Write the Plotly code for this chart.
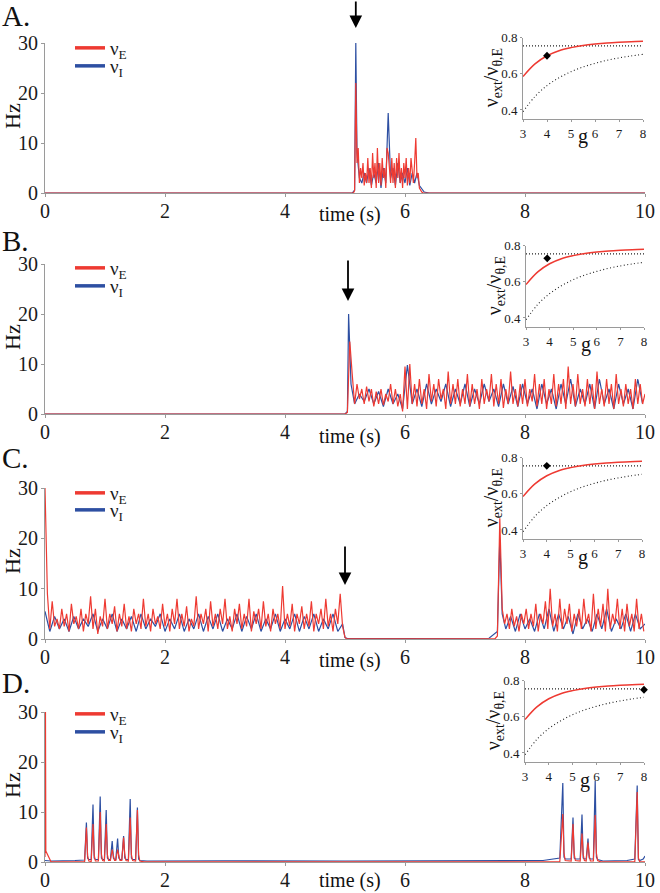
import numpy as np
import plotly.graph_objects as go

W, H = 660, 893
RED = "#ee3a32"
BLUE = "#2d4fa2"
GREY = "#9a9a9a"
FONT = "Liberation Serif, DejaVu Serif, Times New Roman, serif"

# ---------------- data ----------------
# Panel A : burst after the stimulus
A_red_t0, A_red_dt = 5.14, 0.02
A_red = [0, 0.5, 22, 6, 9, 2, 5, 3, 6, 1.5, 4, 2, 7, 2, 5, 1, 8, 3, 6, 1, 9, 2, 6, 1.5,
         7, 3, 5, 1, 9, 8, 4, 2, 7, 2, 6, 1, 7, 3, 8, 2, 5, 1, 6, 3, 7, 1.5, 5, 2, 7, 4,
         2, 6, 11, 3, 4, 1, 0.5, 0.2, 0]
A_blue_pre_t = [0, 5.12, 5.16, 5.18]
A_blue_pre = [0, 0, 0.6, 30]
A_blue_t0, A_blue_dt = 5.20, 0.04
A_blue = [8, 3, 2, 4, 2, 5, 1.5, 4, 2, 6, 1, 5, 2, 16, 3, 5, 1.5, 6, 2, 4, 2, 5, 1.5, 4,
          2, 4, 1.5, 0.8]
A_blue_post_t = [6.32, 6.40, 10]
A_blue_post = [0.2, 0, 0]

# Panel B : silent, then sustained activity
B_red_pre_t = [0, 5.0, 5.04]
B_red_pre = [0, 0, 0.3]
B_red_t0, B_red_dt = 5.08, 0.04
B_red = [14.5, 8, 2, 6, 3, 5, 2, 5.5, 2.5, 5, 1.5, 4.5, 2, 5, 1.8, 4, 2.5, 6, 2, 5, 1.5, 4,
         0.5, 9.5, 1, 10, 2, 6, 1.5, 7, 2, 5, 1, 8, 2.5, 6, 1.5, 7, 3, 5, 1, 8.5, 2, 6, 2,
         7, 1.5, 5, 2, 8, 1.5, 6, 2, 5, 1, 7, 2, 5, 2.5, 8, 1.5, 6, 2, 7, 1.2, 5, 2, 8.5, 2,
         5, 1.5, 6, 2, 7, 1.5, 5, 2.5, 8, 1.5, 6, 2, 7, 1, 5, 2, 8, 1.5, 6, 2, 7, 1, 9.5, 2,
         6, 1.5, 8, 2, 5, 1.5, 7, 2, 6, 1, 8.5, 2, 5, 1.5, 7, 2, 6, 1, 8, 2, 5, 1.5, 6, 2, 5,
         1, 7, 2, 6, 2, 4]
B_blue_pre_t = [0, 5.0, 5.04, 5.06, 5.10]
B_blue_pre = [0, 0, 0.5, 20, 6]
B_blue_t0, B_blue_dt = 5.16, 0.08
B_blue = [2, 4, 2.5, 5, 2, 4.5, 1.5, 5, 2, 4, 1, 9.8, 2, 5, 1.5, 6, 2, 5, 2.5, 6, 1.5, 5,
          2, 6, 1.5, 5, 2, 6, 2.5, 5, 1.5, 6, 2, 5.5, 1.5, 6, 2, 5, 1, 6, 2, 5, 1, 6, 2, 7,
          1.5, 5, 2, 6, 1, 7, 2, 5, 1, 6, 2, 5, 1, 7, 2]

# Panel C : activity, stopped by the stimulus, restarts at ~7.6 s
C_red1_t0, C_red1_dt = 0.0, 0.04
C_red1 = [30, 9, 2, 7.5, 2.5, 4, 2, 6, 2.5, 5, 1.5, 7, 3, 4.5, 2, 6, 1.5, 5, 3, 8.5, 2, 6,
          1, 4.5, 2.5, 8, 2, 5, 3, 6.5, 1.5, 5, 2.5, 7, 2, 4.5, 1.5, 6, 3, 5, 2, 8, 2.5, 5,
          1.5, 6, 3, 4.5, 2, 7, 2.5, 5, 1.5, 6, 3, 8, 2, 5, 2.5, 6.5, 1.5, 4, 2.5, 8.5, 2,
          5, 3, 6, 1.5, 7.5, 2.5, 5, 2, 6, 3, 8, 2, 4.5, 1.5, 6, 3, 7, 2, 5, 2.5, 8, 1.5,
          5.5, 3, 6, 2, 7.5, 2.5, 5, 1.5, 6, 3, 5, 2, 10.5, 2, 5, 2.5, 7, 1.5, 5, 3, 6.5, 2,
          5, 2.5, 7.5, 1.5, 5, 3, 6, 2, 8, 2.5, 5, 1.5, 6, 3, 9, 2.5, 0.3]
C_red_mid_t = [5.03, 7.50, 7.54]
C_red_mid = [0.02, 0.05, 0.6]
C_red2_t0, C_red2_dt = 7.58, 0.04
C_red2 = [24, 6, 3, 5, 2, 6, 2.5, 4.5, 1.5, 5, 3, 6, 2, 5, 2.5, 7, 1.5, 5, 3, 7.5, 2, 10,
          2.5, 5, 1.5, 8, 2, 6, 3, 7, 1.5, 5, 2.5, 6, 2, 8, 3, 5, 1.5, 9, 2, 6, 2.5, 7, 1.5,
          10, 2, 5, 3, 8, 2, 6, 1.5, 7, 2.5, 5, 1.5, 8, 2, 5, 1.5]
C_blue1_t0, C_blue1_dt = 0.0, 0.08
C_blue1 = [5.5, 1.5, 4.5, 2, 4, 1.5, 4.5, 2, 4, 2.5, 5, 1.5, 4, 2, 5, 1.5, 4, 2, 4.5, 1.5,
           5, 2, 4, 2.5, 5, 1.5, 4, 2, 5, 1.5, 4, 2, 5, 1.5, 4.5, 2, 5, 1.5, 4, 2, 5, 1.5,
           4.5, 2, 5, 1.5, 4, 2, 5, 1.5, 4, 2, 5, 1.5, 4.5, 2, 5, 1.5, 4, 2, 5, 1.5, 3]
C_blue_mid_t = [5.0, 5.04, 7.40, 7.54, 7.58, 7.62]
C_blue_mid = [0.3, 0.1, 0.15, 1.5, 20, 5]
C_blue2_t0, C_blue2_dt = 7.68, 0.08
C_blue2 = [2, 4.5, 1.5, 5, 2, 4, 1.5, 5, 2, 6, 1.5, 5, 2, 4.5, 1, 5, 2, 4, 1.5, 5, 2, 6,
           1.5, 4, 2, 5, 1.5, 5, 2, 3]

# Panel D : quiescent network with isolated population spikes
D_red_t = [0, 0.008, 0.014, 0.03, 0.06, 0.1,
           0.66, 0.69, 0.71, 0.73, 0.77, 0.80, 0.82, 0.84, 0.89, 0.92, 0.94, 0.96,
           0.99, 1.02, 1.04, 1.06, 1.09, 1.12, 1.14, 1.16, 1.18, 1.21, 1.23, 1.25,
           1.28, 1.31, 1.33, 1.35, 1.39, 1.42, 1.44, 1.46, 1.51, 1.54, 1.56, 1.58, 1.65,
           8.58, 8.63, 8.65, 8.67, 8.77, 8.80, 8.82, 8.84, 8.92, 8.95, 8.97, 8.99,
           9.02, 9.05, 9.07, 9.09, 9.14, 9.17, 9.19, 9.21, 9.26,
           9.83, 9.87, 9.89, 9.91, 10]
D_red = [1.0, 30, 2.2, 1.8, 0.8, 0.05,
         0.05, 6.9, 1.2, 0.2, 0.1, 7.6, 1.4, 0.2, 0.2, 10, 1.6, 0.3,
         0.2, 7.6, 1.5, 0.3, 0.3, 2.5, 1.2, 0.3, 0.3, 2.5, 1.3, 0.3,
         0.3, 4.9, 1.4, 0.3, 0.2, 8.9, 1.5, 0.3, 0.2, 10.4, 1.5, 0.2, 0.02,
         0.05, 9.6, 1.8, 0.3, 0.2, 7.6, 1.6, 0.3, 0.2, 5.7, 1.5, 0.3,
         0.2, 3.9, 1.2, 0.2, 0.2, 9.4, 1.8, 0.3, 0.02,
         0.05, 14, 0.8, 0.1, 0.05]
D_blue_t = [0, 0.1, 0.5, 0.66, 0.69, 0.71, 0.73, 0.77, 0.80, 0.82, 0.84, 0.89, 0.92, 0.94,
            0.96, 0.99, 1.02, 1.04, 1.06, 1.09, 1.12, 1.14, 1.16, 1.18, 1.21, 1.23, 1.25,
            1.28, 1.31, 1.33, 1.35, 1.39, 1.42, 1.44, 1.46, 1.51, 1.54, 1.56, 1.58, 1.7,
            3.0, 5.0, 8.3, 8.5, 8.58, 8.63, 8.65, 8.67, 8.77, 8.80, 8.82, 8.84, 8.92, 8.95,
            8.97, 8.99, 9.02, 9.05, 9.07, 9.09, 9.14, 9.17, 9.19, 9.21, 9.3, 9.7, 9.83,
            9.87, 9.89, 9.91, 9.97, 10]
D_blue = [0.3, 0.2, 0.3, 0.4, 7.9, 0.8, 0.5, 0.5, 11.5, 0.8, 0.5, 0.5, 13.1, 0.8,
          0.5, 0.5, 10.4, 0.8, 0.5, 0.5, 4.2, 0.8, 0.5, 0.5, 4.7, 0.8, 0.5,
          0.5, 5.2, 0.8, 0.5, 0.5, 12.6, 0.8, 0.5, 0.5, 10.9, 0.6, 0.3, 0.2,
          0.25, 0.2, 0.3, 0.6, 0.8, 15.8, 1, 0.6, 0.6, 8.9, 0.8, 0.6, 0.6, 9.5,
          0.8, 0.6, 0.6, 4.7, 0.8, 0.6, 0.6, 16.3, 1, 0.5, 0.2, 0.3, 0.6,
          15.3, 0.5, 0.3, 0.6, 1.2]

# Insets: nu_ext / nu_theta,E as a function of g
g_vals = [3, 3.5, 4, 4.5, 5, 5.5, 6, 6.5, 7, 7.5, 8]
ratio_red = [0.585, 0.655, 0.700, 0.728, 0.745, 0.757, 0.765, 0.771, 0.775, 0.778, 0.780]
ratio_low = [0.39, 0.475, 0.535, 0.578, 0.612, 0.638, 0.658, 0.675, 0.688, 0.699, 0.708]
ratio_level = 0.755
g_range = [3, 8]
marker_g = [4.0, 3.9, 4.0, 8.0]
marker_ratio = [0.70, 0.73, 0.755, 0.75]

x_ticks = [0, 2, 4, 6, 8, 10]
y_ticks = [0, 10, 20, 30]
g_ticks = [3, 4, 5, 6, 7, 8]
ratio_ticks = [0.4, 0.6, 0.8]
letters = ["A.", "B.", "C.", "D."]
# stimulus times (s) marked by arrows
arrow_t = {0: 5.18, 1: 5.05, 2: 5.0}


def grid(t0, dt, vals):
    return list(np.round(t0 + dt * np.arange(len(vals)), 3))


red_series = [
    ([0] + grid(A_red_t0, A_red_dt, A_red) + [10], [0] + A_red + [0]),
    (B_red_pre_t + grid(B_red_t0, B_red_dt, B_red), B_red_pre + B_red),
    (grid(C_red1_t0, C_red1_dt, C_red1) + C_red_mid_t + grid(C_red2_t0, C_red2_dt, C_red2),
     C_red1 + C_red_mid + C_red2),
    (D_red_t, D_red),
]
blue_series = [
    (A_blue_pre_t + grid(A_blue_t0, A_blue_dt, A_blue) + A_blue_post_t,
     A_blue_pre + A_blue + A_blue_post),
    (B_blue_pre_t + grid(B_blue_t0, B_blue_dt, B_blue), B_blue_pre + B_blue),
    (grid(C_blue1_t0, C_blue1_dt, C_blue1) + C_blue_mid_t + grid(C_blue2_t0, C_blue2_dt, C_blue2),
     C_blue1 + C_blue_mid + C_blue2),
    (D_blue_t, D_blue),
]

# ---------------- layout geometry (page pixels) ----------------
main_rows = [(43, 193), (264, 414), (488, 639), (712, 862)]
inset_boxes = [(523, 643, 37.7, 119), (526, 644, 245.7, 327), (523, 642, 457.7, 539),
               (525, 644, 680.7, 762)]
legend_rows = [(47, 65), (267, 285), (492, 509), (713, 731)]
time_label_y = [214, 436, 660, 880]
letter_y = [16, 241, 458, 683]
arrow_px = {0: (28, -30), 1: (301, -42), 2: (585, -40)}
LEG_OFF = 18


def px(p):
    return p / W


def py(p):
    return 1 - p / H


fig = go.Figure()
layout = dict(
    template="none",
    width=W, height=H, margin=dict(l=0, r=0, t=0, b=0, pad=0, autoexpand=False),
    paper_bgcolor="white", plot_bgcolor="rgba(0,0,0,0)",
    font=dict(family=FONT, color="#1a1a1a"),
    showlegend=True,
)
annotations = []

for i in range(4):
    n = i + 1
    xa = "x" if n == 1 else f"x{n}"
    ya = "y" if n == 1 else f"y{n}"
    leg_r = "legend" if i == 0 else f"legend{2 * i + 1}"
    leg_b = f"legend{2 * i + 2}"
    bt, bv = blue_series[i]
    rt, rv = red_series[i]
    fig.add_trace(go.Scatter(x=bt, y=bv, mode="lines", line=dict(color=BLUE, width=1.2),
                             xaxis=xa, yaxis=ya, showlegend=False, hoverinfo="skip"))
    fig.add_trace(go.Scatter(x=rt, y=rv, mode="lines", line=dict(color=RED, width=1.2),
                             xaxis=xa, yaxis=ya, showlegend=False, hoverinfo="skip"))
    # legend entries
    fig.add_trace(go.Scatter(x=[None], y=[None], mode="lines", line=dict(color=RED, width=3.5),
                             name="ν<sub>E</sub>", xaxis=xa, yaxis=ya, legend=leg_r))
    fig.add_trace(go.Scatter(x=[None], y=[None], mode="lines", line=dict(color=BLUE, width=3.5),
                             name="ν<sub>I</sub>", xaxis=xa, yaxis=ya, legend=leg_b))

    top, bot = main_rows[i]
    layout[f"xaxis{'' if n == 1 else n}"] = dict(
        domain=[px(45), px(645)], range=[0, 10], anchor=ya, tickvals=x_ticks,
        showline=True, linecolor=GREY, linewidth=1, ticks="outside", ticklen=3,
        tickcolor=GREY, showgrid=False, zeroline=False, automargin=False,
        tickfont=dict(family=FONT, size=20, color="#1a1a1a"), ticklabelstandoff=-3)
    layout[f"yaxis{'' if n == 1 else n}"] = dict(
        domain=[py(bot), py(top)], range=[0, 30], anchor=xa, tickvals=y_ticks,
        showline=True, linecolor=GREY, linewidth=1, ticks="outside", ticklen=3,
        tickcolor=GREY, showgrid=False, zeroline=False, automargin=False,
        tickfont=dict(family=FONT, size=20, color="#1a1a1a"), ticklabelstandoff=-1)
    ry, by = legend_rows[i]
    for lg, yy in ((leg_r, ry), (leg_b, by)):
        layout[lg] = dict(x=px(70), y=py(yy - LEG_OFF), xanchor="left", yanchor="top",
                          bgcolor="rgba(0,0,0,0)", borderwidth=0,
                          font=dict(family=FONT, size=19, color="#1a1a1a"))

    # inset
    m = n + 4
    ixa, iya = f"x{m}", f"y{m}"
    x0, x1, y0, y1 = inset_boxes[i]
    fig.add_trace(go.Scatter(x=g_range, y=[ratio_level, ratio_level], mode="lines",
                             line=dict(color="#222", width=1.1, dash="1px,2px"),
                             xaxis=ixa, yaxis=iya, showlegend=False, hoverinfo="skip"))
    fig.add_trace(go.Scatter(x=g_vals, y=ratio_low, mode="lines", line_shape="spline",
                             line=dict(color="#222", width=1.1, dash="1px,2.5px"),
                             xaxis=ixa, yaxis=iya, showlegend=False, hoverinfo="skip"))
    fig.add_trace(go.Scatter(x=g_vals, y=ratio_red, mode="lines", line_shape="spline",
                             line=dict(color=RED, width=1.5),
                             xaxis=ixa, yaxis=iya, showlegend=False, hoverinfo="skip"))
    fig.add_trace(go.Scatter(x=[marker_g[i]], y=[marker_ratio[i]], mode="markers",
                             marker=dict(color="black", size=6, symbol="diamond"),
                             cliponaxis=False,
                             xaxis=ixa, yaxis=iya, showlegend=False, hoverinfo="skip"))
    layout[f"xaxis{m}"] = dict(
        domain=[px(x0), px(x1)], range=[3, 8], anchor=iya, tickvals=g_ticks,
        showline=True, linecolor=GREY, linewidth=1, ticks="outside", ticklen=2,
        tickcolor=GREY, showgrid=False, zeroline=False, automargin=False,
        tickfont=dict(family=FONT, size=13, color="#1a1a1a"), ticklabelstandoff=0)
    layout[f"yaxis{m}"] = dict(
        domain=[py(y1), py(y0)], range=[0.35, 0.8], anchor=ixa, tickvals=ratio_ticks,
        ticktext=["0.4", "0.6", "0.8"],
        showline=True, linecolor=GREY, linewidth=1, ticks="outside", ticklen=2,
        tickcolor=GREY, showgrid=False, zeroline=False, automargin=False,
        tickfont=dict(family=FONT, size=13, color="#1a1a1a"), ticklabelstandoff=0)
    # inset axis titles
    annotations.append(dict(text="g", x=px(x0 + 60), y=py(y1 + 18), xref="paper",
                            yref="paper", xanchor="center", yanchor="middle",
                            showarrow=False, font=dict(family=FONT, size=20, color="#111")))
    annotations.append(dict(text="ν<sub>ext</sub>/ν<sub>θ,E</sub>", x=px(x0 - 31),
                            y=py((y0 + y1) / 2 - 1), xref="paper", yref="paper",
                            xanchor="center", yanchor="middle", textangle=-90,
                            showarrow=False, font=dict(family=FONT, size=20, color="#111")))

    # texts
    annotations.append(dict(text=letters[i], x=px(0), y=py(letter_y[i]), xref="paper",
                            yref="paper", xanchor="left", yanchor="middle", showarrow=False,
                            font=dict(family=FONT, size=29, color="#111")))
    annotations.append(dict(text="Hz", x=px(12), y=py(top + 73), xref="paper",
                            yref="paper", xanchor="center", yanchor="middle", textangle=-90,
                            showarrow=False, font=dict(family=FONT, size=22, color="#111")))
    annotations.append(dict(text="time (s)", x=px(350), y=py(time_label_y[i]), xref="paper",
                            yref="paper", xanchor="center", yanchor="middle",
                            showarrow=False, font=dict(family=FONT, size=20, color="#111")))
    if i in arrow_t:
        tip, ay = arrow_px[i]
        annotations.append(dict(x=arrow_t[i], y=py(tip), xref=xa, yref="paper", text="",
                                showarrow=True, arrowhead=2, arrowsize=1.4, arrowwidth=1.8,
                                arrowcolor="black", ax=0, ay=ay))

layout["annotations"] = annotations
fig.update_layout(**layout)
# the page body has a default 8px margin; remove it so the figure fills the window
fig.write_html("out.html", config={"displayModeBar": False},
               post_script="document.body.style.margin='0px';document.body.style.padding='0px';")
